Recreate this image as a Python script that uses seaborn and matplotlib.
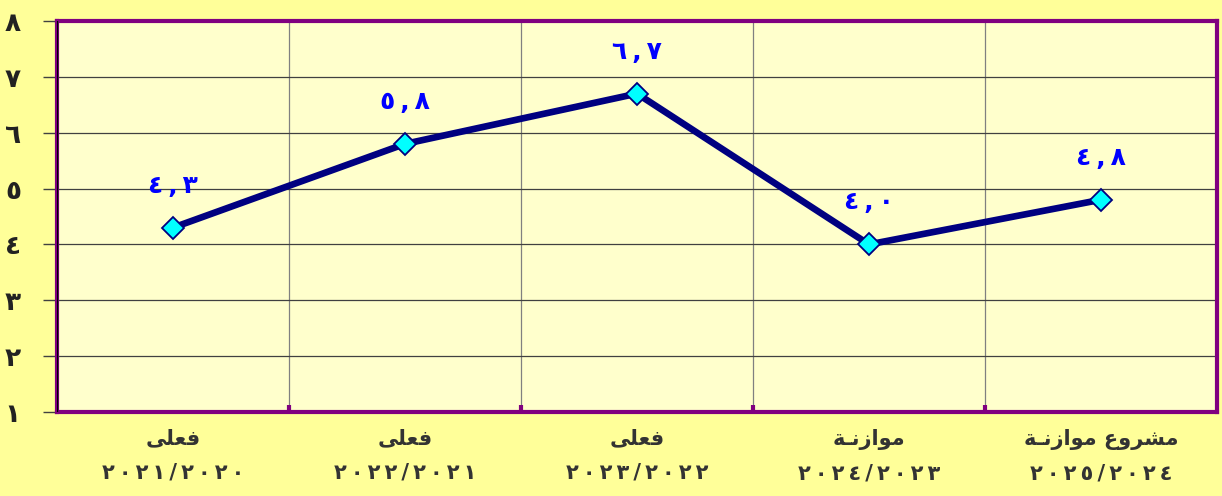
import matplotlib
matplotlib.use("Agg")
import matplotlib.pyplot as plt
import seaborn as sns
import pandas as pd

# data
categories = ["فعلى", "فعلى", "فعلى", "موازنـة", "مشروع موازنـة"]
years = ["٢٠٢١/٢٠٢٠", "٢٠٢٢/٢٠٢١", "٢٠٢٣/٢٠٢٢", "٢٠٢٤/٢٠٢٣", "٢٠٢٥/٢٠٢٤"]
values = [4.3, 5.8, 6.7, 4.0, 4.8]
y_ticks = [1, 2, 3, 4, 5, 6, 7, 8]

# minimal Arabic shaping (matplotlib has no complex text layout)
FORMS = {
    "ف": ("\uFED1", "\uFED2", "\uFED3", "\uFED4"),
    "ع": ("\uFEC9", "\uFECA", "\uFECB", "\uFECC"),
    "ل": ("\uFEDD", "\uFEDE", "\uFEDF", "\uFEE0"),
    "ى": ("\uFEEF", "\uFEF0", "\uFBE8", "\uFBE9"),
    "م": ("\uFEE1", "\uFEE2", "\uFEE3", "\uFEE4"),
    "و": ("\uFEED", "\uFEEE", None, None),
    "ا": ("\uFE8D", "\uFE8E", None, None),
    "ز": ("\uFEAF", "\uFEB0", None, None),
    "ن": ("\uFEE5", "\uFEE6", "\uFEE7", "\uFEE8"),
    "ة": ("\uFE93", "\uFE94", None, None),
    "ش": ("\uFEB5", "\uFEB6", "\uFEB7", "\uFEB8"),
    "ر": ("\uFEAD", "\uFEAE", None, None),
    "ـ": ("\u0640", "\u0640", "\u0640", "\u0640"),
}


def shape(text):
    out = []
    for i, ch in enumerate(text):
        if ch not in FORMS:
            out.append(ch)
            continue
        prev = text[i - 1] if i > 0 else None
        nxt = text[i + 1] if i + 1 < len(text) else None
        jp = prev in FORMS and FORMS[prev][2] is not None
        jn = FORMS[ch][2] is not None and nxt in FORMS
        iso, fin, ini, med = FORMS[ch]
        if jp and jn:
            out.append(med)
        elif jp:
            out.append(fin)
        elif jn:
            out.append(ini)
        else:
            out.append(iso)
    return "".join(reversed(out))


AR_DIGITS = str.maketrans("0123456789", "٠١٢٣٤٥٦٧٨٩")


def ar_num(v):
    a, b = f"{v:.1f}".split(".")
    return f"{a}\u2009,\u2009{b}".translate(AR_DIGITS)


def spaced(s):
    # the reference font sets its digits wide apart
    return "\u2009".join(s)


df = pd.DataFrame({"x": range(len(values)), "y": values})

purple = "#800080"
fig = plt.figure(figsize=(12.22, 4.96), dpi=100, facecolor="#FFFF99")
ax = fig.add_axes([57 / 1222, 84 / 496, 1160 / 1222, 391 / 496])
ax.set_facecolor("#FFFFCC")

sns.lineplot(data=df, x="x", y="y", ax=ax, color="#000080", linewidth=4.8,
             marker="D", markersize=11, markerfacecolor="#00FFFF",
             markeredgecolor="#000080", markeredgewidth=1.3, zorder=5)

for x, v in zip(df["x"], df["y"]):
    ax.annotate(ar_num(v), (x, v), xytext=(0, 42), textcoords="offset pixels",
                ha="center", va="center", color="#0000FF", fontsize=18,
                fontweight="bold", family="DejaVu Sans", zorder=6)

ax.set_xlim(-0.5, len(values) - 0.5)
ax.set_ylim(1, 8)
ax.set_yticks(y_ticks)
ax.set_yticklabels([str(t).translate(AR_DIGITS) for t in y_ticks],
                   fontsize=19, fontweight="bold", color="#222222")
ax.set_xticks(range(len(values)))
ax.set_xticklabels([shape(c) + "\n" + spaced(y) for c, y in zip(categories, years)],
                   fontsize=15, fontweight="bold", color="#333333",
                   linespacing=1.85)
ax.set_xticks([i + 0.5 for i in range(len(values) - 1)], minor=True)

ax.grid(axis="y", which="major", color="#404040", linewidth=0.9)
ax.grid(axis="x", which="minor", color="#808080", linewidth=0.9)
ax.grid(axis="x", which="major", visible=False)
ax.set_axisbelow(True)

ax.tick_params(axis="x", which="major", length=0, pad=12)
ax.tick_params(axis="x", which="minor", direction="in", length=5, width=3,
               color=purple)
ax.tick_params(axis="y", which="major", direction="out", length=10, width=1,
               color="#404040", pad=16)
ax.set_xlabel("")
ax.set_ylabel("")

for s in ax.spines.values():
    s.set_color(purple)
    s.set_linewidth(3)
ax.axvline(-0.5, color="black", linewidth=1, zorder=4)

fig.savefig("out.png", dpi=100, facecolor=fig.get_facecolor())
